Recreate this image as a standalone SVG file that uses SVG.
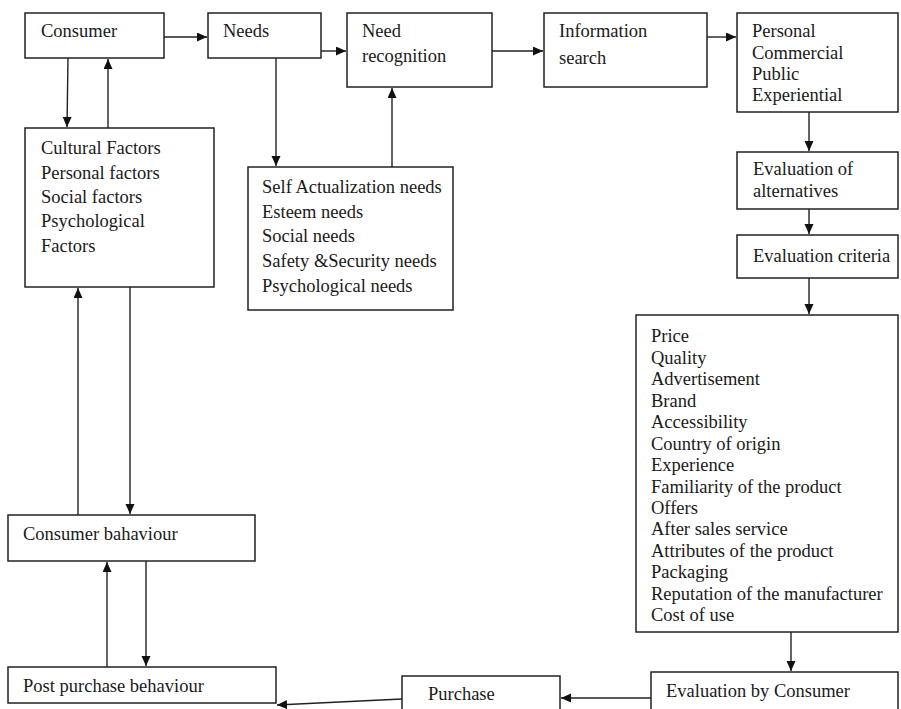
<svg xmlns="http://www.w3.org/2000/svg" width="901" height="709" viewBox="0 0 901 709">
<style>
.box{fill:#fff;stroke:#222;stroke-width:1.5}
.t{font-family:"Liberation Serif","Times New Roman",serif;font-size:18.5px;fill:#1a1a1a}
.c{fill:none;stroke:#222;stroke-width:1.4}
</style>
<defs>
<marker id="ah" markerUnits="userSpaceOnUse" markerWidth="11" markerHeight="10" refX="10" refY="4.5" orient="auto">
<path d="M0,0 L10,4.5 L0,9 z" fill="#111"/>
</marker>
</defs>
<rect width="901" height="709" fill="#fff"/>

<g id="connectors">
<line class="c" x1="164" y1="37" x2="207" y2="37" marker-end="url(#ah)"/>
<line class="c" x1="321" y1="51" x2="346" y2="51" marker-end="url(#ah)"/>
<line class="c" x1="492" y1="51" x2="543" y2="51" marker-end="url(#ah)"/>
<line class="c" x1="707" y1="37" x2="736" y2="37" marker-end="url(#ah)"/>
<line class="c" x1="68" y1="58" x2="67" y2="127" marker-end="url(#ah)"/>
<line class="c" x1="108" y1="128" x2="108" y2="59" marker-end="url(#ah)"/>
<line class="c" x1="276" y1="58" x2="276" y2="166" marker-end="url(#ah)"/>
<line class="c" x1="392" y1="167" x2="392" y2="88" marker-end="url(#ah)"/>
<line class="c" x1="809" y1="112" x2="809" y2="151" marker-end="url(#ah)"/>
<line class="c" x1="809" y1="209" x2="809" y2="234" marker-end="url(#ah)"/>
<line class="c" x1="809" y1="278" x2="809" y2="314" marker-end="url(#ah)"/>
<line class="c" x1="78" y1="515" x2="78" y2="288" marker-end="url(#ah)"/>
<line class="c" x1="130" y1="287" x2="130" y2="514" marker-end="url(#ah)"/>
<line class="c" x1="107" y1="667" x2="107" y2="562" marker-end="url(#ah)"/>
<line class="c" x1="146" y1="561" x2="146" y2="666" marker-end="url(#ah)"/>
<line class="c" x1="791" y1="632" x2="791" y2="671" marker-end="url(#ah)"/>
<line class="c" x1="651" y1="698" x2="561" y2="698" marker-end="url(#ah)"/>
<line class="c" x1="402" y1="699" x2="277" y2="705" marker-end="url(#ah)"/>
</g>

<g id="consumer">
<rect class="box" x="25" y="13" width="139" height="45"/>
<text class="t" x="41" y="37">Consumer</text>
</g>
<g id="needs">
<rect class="box" x="208" y="13" width="113" height="45"/>
<text class="t" x="223" y="37">Needs</text>
</g>
<g id="need-recognition">
<rect class="box" x="347" y="13" width="145" height="74"/>
<text class="t" x="362" y="37">Need</text>
<text class="t" x="362" y="62">recognition</text>
</g>
<g id="information-search">
<rect class="box" x="544" y="13" width="163" height="74"/>
<text class="t" x="559" y="37">Information</text>
<text class="t" x="559" y="64">search</text>
</g>
<g id="sources">
<rect class="box" x="737" y="13" width="161" height="99"/>
<text class="t" x="752" y="37">Personal</text>
<text class="t" x="752" y="58.5">Commercial</text>
<text class="t" x="752" y="80">Public</text>
<text class="t" x="752" y="101">Experiential</text>
</g>
<g id="factors">
<rect class="box" x="25" y="128" width="189" height="159"/>
<text class="t" x="41" y="154">Cultural Factors</text>
<text class="t" x="41" y="178.5">Personal factors</text>
<text class="t" x="41" y="203">Social factors</text>
<text class="t" x="41" y="227">Psychological</text>
<text class="t" x="41" y="251.5">Factors</text>
</g>
<g id="need-hierarchy">
<rect class="box" x="248" y="167" width="205" height="143"/>
<text class="t" x="262" y="193">Self Actualization needs</text>
<text class="t" x="262" y="217.5">Esteem needs</text>
<text class="t" x="262" y="242">Social needs</text>
<text class="t" x="262" y="267">Safety &amp;Security needs</text>
<text class="t" x="262" y="291.5">Psychological needs</text>
</g>
<g id="evaluation-alternatives">
<rect class="box" x="737" y="152" width="161" height="57"/>
<text class="t" x="753" y="175">Evaluation of</text>
<text class="t" x="753" y="197">alternatives</text>
</g>
<g id="evaluation-criteria">
<rect class="box" x="737" y="235" width="161" height="43"/>
<text class="t" x="753" y="262">Evaluation criteria</text>
</g>
<g id="criteria-list">
<rect class="box" x="636" y="315" width="262" height="317"/>
<text class="t" x="651" y="342">Price</text>
<text class="t" x="651" y="363.5">Quality</text>
<text class="t" x="651" y="385">Advertisement</text>
<text class="t" x="651" y="406.5">Brand</text>
<text class="t" x="651" y="428">Accessibility</text>
<text class="t" x="651" y="449.5">Country of origin</text>
<text class="t" x="651" y="471">Experience</text>
<text class="t" x="651" y="492.5">Familiarity of the product</text>
<text class="t" x="651" y="514">Offers</text>
<text class="t" x="651" y="535">After sales service</text>
<text class="t" x="651" y="556.5">Attributes of the product</text>
<text class="t" x="651" y="578">Packaging</text>
<text class="t" x="651" y="599.5">Reputation of the manufacturer</text>
<text class="t" x="651" y="621">Cost of use</text>
</g>
<g id="consumer-behaviour">
<rect class="box" x="8" y="515" width="247" height="46"/>
<text class="t" x="23" y="540">Consumer bahaviour</text>
</g>
<g id="post-purchase">
<rect class="box" x="8" y="667" width="268" height="36"/>
<text class="t" x="23" y="692">Post purchase behaviour</text>
</g>
<g id="purchase">
<rect class="box" x="402" y="676" width="158" height="40"/>
<text class="t" x="428" y="700">Purchase</text>
</g>
<g id="evaluation-consumer">
<rect class="box" x="651" y="672" width="247" height="44"/>
<text class="t" x="666" y="697">Evaluation by Consumer</text>
</g>
</svg>
